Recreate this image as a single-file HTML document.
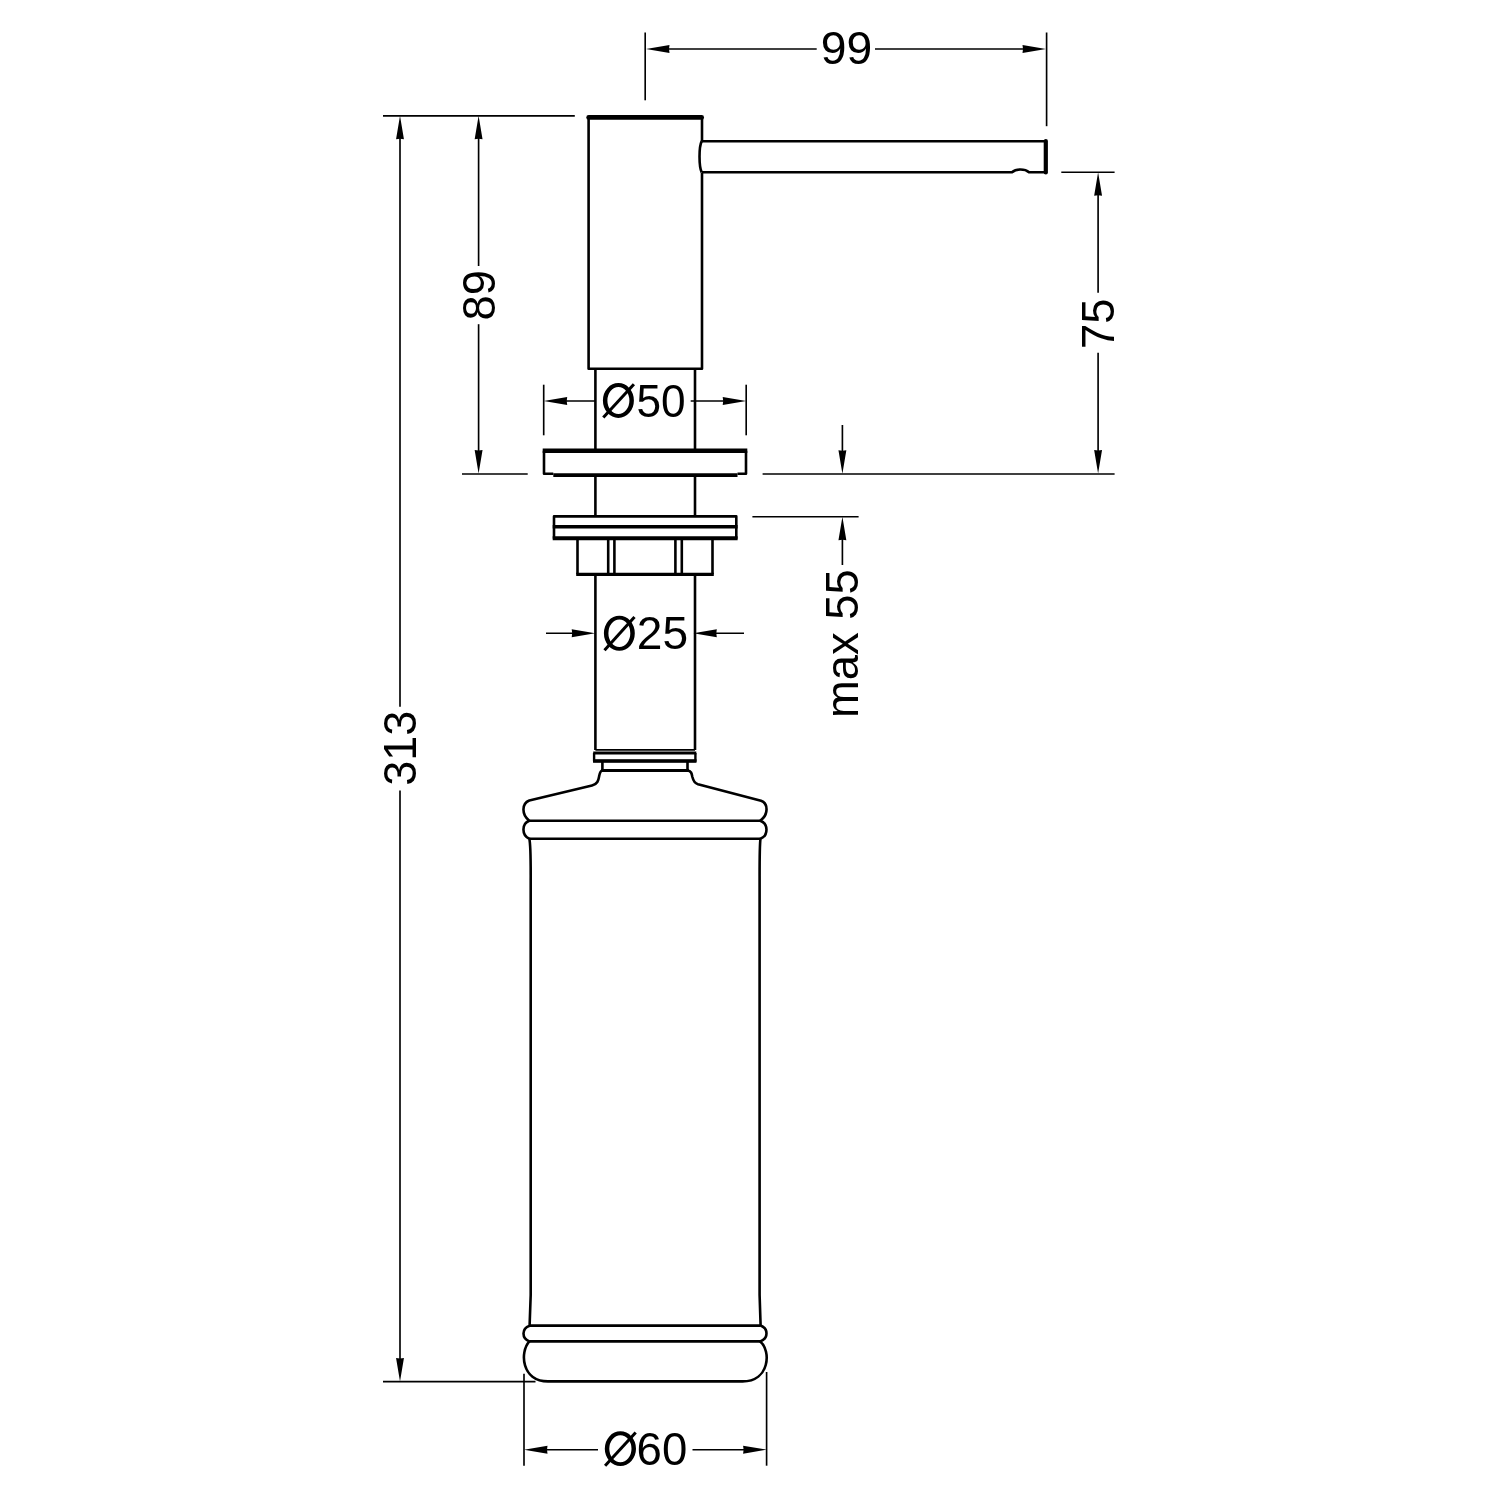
<!DOCTYPE html>
<html><head><meta charset="utf-8"><style>
html,body{margin:0;padding:0;background:#fff;}
svg{display:block;will-change:transform;}
text{font-family:"Liberation Sans",sans-serif;font-size:46px;fill:#000;stroke:none;}
</style></head><body>
<svg width="1500" height="1500" viewBox="0 0 1500 1500">
<g stroke="#000" fill="#000" stroke-linecap="butt" stroke-linejoin="round">
<line x1="645.2" y1="32.5" x2="645.2" y2="100.3" stroke-width="1.65"/>
<line x1="1046.6" y1="32.5" x2="1046.6" y2="126.2" stroke-width="1.65"/>
<line x1="658" y1="49" x2="816.7" y2="49" stroke-width="1.65"/>
<line x1="875" y1="49" x2="1034" y2="49" stroke-width="1.65"/>
<polygon stroke="none" points="646.00,49.00 669.50,45.05 669.00,49.00 669.50,52.95"/>
<polygon stroke="none" points="1046.00,49.00 1022.50,45.05 1023.00,49.00 1022.50,52.95"/>
<text x="0" y="0" style="font-size:47px" transform="translate(820.785,64.108) scale(0.9843,0.9835)">99</text>
<line x1="383" y1="115.8" x2="574.8" y2="115.8" stroke-width="1.65"/>
<line x1="478.6" y1="127.8" x2="478.6" y2="266" stroke-width="1.65"/>
<line x1="478.6" y1="324.2" x2="478.6" y2="461.6" stroke-width="1.65"/>
<polygon stroke="none" points="478.60,115.80 474.65,139.30 478.60,138.80 482.55,139.30"/>
<polygon stroke="none" points="478.60,473.60 474.65,450.10 478.60,450.60 482.55,450.10"/>
<text x="0" y="0" style="font-size:47px" transform="translate(494.504,320.533) rotate(-90) scale(0.9667,0.9925)">89</text>
<line x1="462" y1="474.0" x2="527.7" y2="474.0" stroke-width="1.65"/>
<line x1="400.0" y1="127.8" x2="400.0" y2="706.8" stroke-width="1.65"/>
<line x1="400.0" y1="790.5" x2="400.0" y2="1369.5" stroke-width="1.65"/>
<polygon stroke="none" points="400.00,115.80 396.05,139.30 400.00,138.80 403.95,139.30"/>
<polygon stroke="none" points="400.00,1381.50 396.05,1358.00 400.00,1358.50 403.95,1358.00"/>
<text x="0" y="0" style="font-size:47px" transform="translate(415.810,785.675) rotate(-90) scale(0.9570,0.9805)">313</text>
<line x1="383" y1="1381.6" x2="535.5" y2="1381.6" stroke-width="1.65"/>
<line x1="1098.1" y1="184.2" x2="1098.1" y2="292.8" stroke-width="1.65"/>
<line x1="1098.1" y1="352.8" x2="1098.1" y2="461.6" stroke-width="1.65"/>
<polygon stroke="none" points="1098.10,172.20 1094.15,195.70 1098.10,195.20 1102.05,195.70"/>
<polygon stroke="none" points="1098.10,473.60 1094.15,450.10 1098.10,450.60 1102.05,450.10"/>
<text x="0" y="0" style="font-size:47px" transform="translate(1113.807,349.119) rotate(-90) scale(0.9675,0.9863)">75</text>
<line x1="1061.3" y1="172.2" x2="1114.6" y2="172.2" stroke-width="1.65"/>
<line x1="762.6" y1="474.0" x2="1114.6" y2="474.0" stroke-width="1.65"/>
<path d="M588.6,117.4 V368.7 H702.0 V172.5 M702.0,141.2 V117.4" stroke-width="2.6" fill="none"/>
<line x1="588.6" y1="117.4" x2="701.7" y2="117.4" stroke-width="4.6" stroke-linecap="round"/>
<path d="M702,141.2 H1046 M702,172.3 H1012 C1016,168.5 1025,168.5 1029,172.3 H1046" stroke-width="2.6" fill="none"/>
<line x1="1045.8" y1="141.0" x2="1045.8" y2="172.5" stroke-width="4.2" stroke-linecap="round"/>
<path d="M701.7,141.2 C698.8,147 698.8,166.5 701.7,172.3" stroke-width="2.6" fill="none"/>
<line x1="595.4" y1="368.7" x2="595.4" y2="450.8" stroke-width="2.6"/>
<line x1="595.4" y1="475" x2="595.4" y2="516.4" stroke-width="2.6"/>
<line x1="595.4" y1="576" x2="595.4" y2="750" stroke-width="2.6"/>
<line x1="695" y1="368.7" x2="695" y2="450.8" stroke-width="2.6"/>
<line x1="695" y1="475" x2="695" y2="516.4" stroke-width="2.6"/>
<line x1="695" y1="576" x2="695" y2="750" stroke-width="2.6"/>
<line x1="543.7" y1="384.7" x2="543.7" y2="435.3" stroke-width="1.65"/>
<line x1="746.2" y1="384.7" x2="746.2" y2="435.3" stroke-width="1.65"/>
<line x1="555.7" y1="401" x2="596" y2="401" stroke-width="1.65"/>
<line x1="690.7" y1="401" x2="734.2" y2="401" stroke-width="1.65"/>
<polygon stroke="none" points="543.70,401.00 567.20,397.05 566.70,401.00 567.20,404.95"/>
<polygon stroke="none" points="746.20,401.00 722.70,397.05 723.20,401.00 722.70,404.95"/>
<text x="0" y="0" style="font-size:47px" transform="translate(636.520,416.504) scale(0.9402,0.9925)">50</text>
<path stroke="none" fill-rule="evenodd" d="M602.90,400.50 A15.50,17.40 0 1,0 633.90,400.50 A15.50,17.40 0 1,0 602.90,400.50 Z M607.40,400.50 A11.00,13.50 0 1,0 629.40,400.50 A11.00,13.50 0 1,0 607.40,400.50 Z"/>
<line x1="603.3" y1="417.6" x2="633.9" y2="384.3" stroke-width="3.0"/>
<path d="M544,450.8 V473.7 H553.3 M746,450.8 V473.7 H737.5" stroke-width="2.6" fill="none"/>
<line x1="542.7" y1="450.8" x2="747.3" y2="450.8" stroke-width="4.6"/>
<line x1="553.3" y1="475.1" x2="737.5" y2="475.1" stroke-width="3.8"/>
<rect x="554" y="516.4" width="182.3" height="21.9" stroke-width="2.6" fill="none"/>
<line x1="552.7" y1="526.8" x2="737.6" y2="526.8" stroke-width="3.5"/>
<line x1="552.7" y1="538.3" x2="737.6" y2="538.3" stroke-width="4.0"/>
<path d="M577.5,538.3 V574.3 M712.5,574.3 V538.3" stroke-width="2.6" fill="none"/>
<line x1="576.2" y1="574.4" x2="713.8" y2="574.4" stroke-width="3.2"/>
<line x1="608.2" y1="538.3" x2="608.2" y2="574.3" stroke-width="2.6"/>
<line x1="614.4" y1="538.3" x2="614.4" y2="574.3" stroke-width="2.6"/>
<line x1="675.4" y1="538.3" x2="675.4" y2="574.3" stroke-width="2.6"/>
<line x1="681.8" y1="538.3" x2="681.8" y2="574.3" stroke-width="2.6"/>
<line x1="842.4" y1="425" x2="842.4" y2="461.8" stroke-width="1.65"/>
<line x1="842.4" y1="528.7" x2="842.4" y2="565" stroke-width="1.65"/>
<polygon stroke="none" points="842.40,473.80 838.45,450.30 842.40,450.80 846.35,450.30"/>
<polygon stroke="none" points="842.40,516.70 838.45,540.20 842.40,539.70 846.35,540.20"/>
<line x1="752.4" y1="516.7" x2="858.6" y2="516.7" stroke-width="1.65"/>
<text x="0" y="0" style="font-size:47px" transform="translate(858.302,717.932) rotate(-90) scale(0.9638,0.9954)">max 55</text>
<line x1="546" y1="633.2" x2="583.2" y2="633.2" stroke-width="1.65"/>
<line x1="705.3" y1="633.2" x2="744" y2="633.2" stroke-width="1.65"/>
<polygon stroke="none" points="595.20,633.20 571.70,629.25 572.20,633.20 571.70,637.15"/>
<polygon stroke="none" points="693.30,633.20 716.80,629.25 716.30,633.20 716.80,637.15"/>
<text x="0" y="0" style="font-size:47px" transform="translate(636.792,649.404) scale(0.9813,0.9925)">25</text>
<path stroke="none" fill-rule="evenodd" d="M603.90,633.25 A15.45,17.55 0 1,0 634.80,633.25 A15.45,17.55 0 1,0 603.90,633.25 Z M608.40,633.25 A10.95,13.65 0 1,0 630.30,633.25 A10.95,13.65 0 1,0 608.40,633.25 Z"/>
<line x1="604.5" y1="650.2" x2="634.5" y2="616.9" stroke-width="3.0"/>
<line x1="595.4" y1="749.9" x2="695" y2="749.9" stroke-width="1.9"/>
<line x1="593.2" y1="753.0" x2="696.3" y2="753.0" stroke-width="2.8"/>
<line x1="593" y1="761.0" x2="696.5" y2="761.0" stroke-width="3.4"/>
<path d="M594.1,753.0 V761 H695.4 V753.0" stroke-width="2.4" fill="none"/>
<path d="M602.4,761 V770.5 M687.5,761 V770.5" stroke-width="2.6" fill="none"/>
<line x1="601" y1="770.5" x2="689" y2="770.5" stroke-width="3.0"/>
<path d="M602.4,770.5 C600,770.8 599.6,774 599.1,776.5 C598.4,780.5 597.5,784.2 592,785.6 L529.3,800.5 C521.5,803.5 521.5,815 529.3,820.7
 C521.5,823.5 521.5,835.5 529.3,838.7 C530.9,845 530.7,870 530.7,880 L530.7,1295 L529.6,1325.7
 C521.5,1328.5 521.5,1338.5 529.4,1341.4 C519.5,1352 521.5,1381.4 548,1381.4 L742.6,1381.4
 C769.5,1381.4 771.5,1351 760.2,1341.4 C768.5,1338.5 768.5,1328.5 760.6,1325.5 L759.6,1295 L759.6,880
 C759.6,870 759.5,845 760.5,838.7 C768.5,835.5 768.5,823.5 760.2,820.7 C768.5,815 768.5,803.5 761,800.8 L698,784.2
 C694,783 693.2,780.5 692.4,777 C691.7,773.5 691.2,770.8 687.5,770.5" stroke-width="2.6" fill="none"/>
<line x1="529.3" y1="820.7" x2="760.2" y2="820.7" stroke-width="2.6"/>
<line x1="529.3" y1="838.7" x2="760.5" y2="838.7" stroke-width="2.6"/>
<line x1="529.4" y1="1325.6" x2="760.2" y2="1325.6" stroke-width="2.6"/>
<line x1="529.4" y1="1341.4" x2="760.2" y2="1341.4" stroke-width="2.6"/>
<line x1="524" y1="1373.7" x2="524" y2="1465.7" stroke-width="1.65"/>
<line x1="766.6" y1="1372" x2="766.6" y2="1465.7" stroke-width="1.65"/>
<line x1="536" y1="1449.7" x2="598" y2="1449.7" stroke-width="1.65"/>
<line x1="692.5" y1="1449.7" x2="754.6" y2="1449.7" stroke-width="1.65"/>
<polygon stroke="none" points="524.00,1449.70 547.50,1445.75 547.00,1449.70 547.50,1453.65"/>
<polygon stroke="none" points="766.60,1449.70 743.10,1445.75 743.60,1449.70 743.10,1453.65"/>
<text x="0" y="0" style="font-size:47px" transform="translate(636.578,1464.704) scale(0.9688,0.9925)">60</text>
<path stroke="none" fill-rule="evenodd" d="M604.80,1448.70 A15.60,17.40 0 1,0 636.00,1448.70 A15.60,17.40 0 1,0 604.80,1448.70 Z M609.30,1448.70 A11.10,13.50 0 1,0 631.50,1448.70 A11.10,13.50 0 1,0 609.30,1448.70 Z"/>
<line x1="605.1" y1="1465.8" x2="635.7" y2="1432.5" stroke-width="3.0"/>
</g>
</svg>
</body></html>
